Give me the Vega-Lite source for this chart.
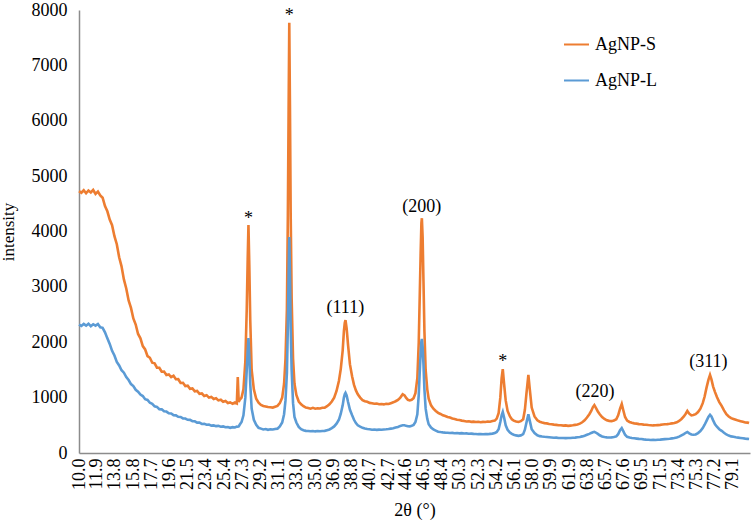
{
"$schema": "https://vega.github.io/schema/vega-lite/v6.json",
"autosize": "none",
"width": 671,
"height": 443,
"padding": {"left": 79, "top": 10, "right": 3, "bottom": 71},
"background": "white",
"config": {"view": {"stroke": null}, "font": "Liberation Serif",
"axis": {"labelFont": "Liberation Serif", "titleFont": "Liberation Serif"},
"legend": {"labelFont": "Liberation Serif"},
"text": {"font": "Liberation Serif"}},
"datasets": {
"xrd": [
{"t":10.00,"S":4730,"L":2320},{"t":10.25,"S":4700,"L":2295},{"t":10.50,"S":4745,"L":2330},{"t":10.75,"S":4690,"L":2300},
{"t":11.00,"S":4740,"L":2335},{"t":11.25,"S":4705,"L":2290},{"t":11.50,"S":4750,"L":2325},{"t":11.75,"S":4680,"L":2300},
{"t":12.00,"S":4720,"L":2330},{"t":12.25,"S":4650,"L":2270},{"t":12.50,"S":4610,"L":2260},{"t":12.75,"S":4460,"L":2180},
{"t":13.00,"S":4365,"L":2070},{"t":13.25,"S":4215,"L":1970},{"t":13.50,"S":4115,"L":1845},{"t":13.75,"S":3915,"L":1760},
{"t":14.00,"S":3770,"L":1645},{"t":14.25,"S":3535,"L":1580},{"t":14.50,"S":3370,"L":1495},{"t":14.75,"S":3135,"L":1450},
{"t":15.00,"S":2970,"L":1372},{"t":15.25,"S":2755,"L":1318},{"t":15.50,"S":2620,"L":1244},{"t":15.75,"S":2430,"L":1208},
{"t":16.00,"S":2320,"L":1142},{"t":16.25,"S":2150,"L":1108},{"t":16.50,"S":2070,"L":1054},{"t":16.75,"S":1930,"L":1028},
{"t":17.00,"S":1870,"L":972},{"t":17.25,"S":1750,"L":958},{"t":17.50,"S":1720,"L":907},{"t":17.75,"S":1630,"L":888},
{"t":18.00,"S":1620,"L":842},{"t":18.25,"S":1540,"L":833},{"t":18.50,"S":1540,"L":792},{"t":18.75,"S":1468,"L":788},
{"t":19.00,"S":1470,"L":752},{"t":19.25,"S":1408,"L":748},{"t":19.50,"S":1418,"L":717},{"t":19.75,"S":1372,"L":713},
{"t":20.00,"S":1397,"L":684},{"t":20.25,"S":1332,"L":680},{"t":20.50,"S":1333,"L":654},{"t":20.75,"S":1265,"L":650},
{"t":21.00,"S":1268,"L":624},{"t":21.25,"S":1210,"L":623},{"t":21.50,"S":1216,"L":600},{"t":21.75,"S":1160,"L":598},
{"t":22.00,"S":1165,"L":575},{"t":22.25,"S":1113,"L":572},{"t":22.50,"S":1120,"L":549},{"t":22.75,"S":1068,"L":548},
{"t":23.00,"S":1075,"L":525},{"t":23.25,"S":1031,"L":526},{"t":23.50,"S":1044,"L":510},{"t":23.75,"S":1001,"L":512},
{"t":24.00,"S":1013,"L":495},{"t":24.25,"S":974,"L":498},{"t":24.50,"S":988,"L":485},{"t":24.75,"S":950,"L":490},
{"t":25.00,"S":962,"L":475},{"t":25.25,"S":925,"L":480},{"t":25.50,"S":938,"L":465},{"t":25.75,"S":901,"L":470},
{"t":26.00,"S":913,"L":455},{"t":26.25,"S":889,"L":466},{"t":26.50,"S":911,"L":460},{"t":26.70,"S":895,"L":476},
{"t":26.80,"S":1370,"L":475},{"t":26.90,"S":920,"L":480},{"t":27.00,"S":960,"L":510},{"t":27.20,"S":1000,"L":560},
{"t":27.40,"S":1150,"L":680},{"t":27.60,"S":1650,"L":1000},{"t":27.75,"S":2600,"L":1500},{"t":27.85,"S":3500,"L":1850},
{"t":27.93,"S":4118,"L":2077},{"t":28.02,"S":3400,"L":1750},{"t":28.12,"S":2400,"L":1250},{"t":28.27,"S":1500,"L":800},
{"t":28.50,"S":1150,"L":600},{"t":28.75,"S":980,"L":510},{"t":29.00,"S":910,"L":455},{"t":29.25,"S":870,"L":440},
{"t":29.50,"S":850,"L":425},{"t":29.75,"S":840,"L":432},{"t":30.00,"S":830,"L":418},{"t":30.25,"S":825,"L":428},
{"t":30.50,"S":820,"L":425},{"t":30.75,"S":835,"L":435},{"t":31.00,"S":850,"L":440},{"t":31.25,"S":900,"L":480},
{"t":31.50,"S":1000,"L":550},{"t":31.70,"S":1250,"L":700},{"t":31.85,"S":1700,"L":950},{"t":32.00,"S":2600,"L":1450},
{"t":32.10,"S":4300,"L":2300},{"t":32.18,"S":6200,"L":3200},{"t":32.25,"S":7771,"L":3901},{"t":32.32,"S":6300,"L":3250},
{"t":32.40,"S":4300,"L":2250},{"t":32.50,"S":2800,"L":1500},{"t":32.65,"S":1700,"L":900},{"t":32.80,"S":1250,"L":650},
{"t":33.00,"S":1050,"L":550},{"t":33.25,"S":930,"L":470},{"t":33.50,"S":880,"L":430},{"t":33.75,"S":845,"L":412},
{"t":34.00,"S":820,"L":400},{"t":34.25,"S":812,"L":398},{"t":34.50,"S":800,"L":392},{"t":34.75,"S":815,"L":398},
{"t":35.00,"S":800,"L":390},{"t":35.25,"S":808,"L":396},{"t":35.50,"S":805,"L":392},{"t":35.75,"S":818,"L":398},
{"t":36.00,"S":820,"L":400},{"t":36.25,"S":845,"L":412},{"t":36.50,"S":880,"L":425},{"t":36.75,"S":930,"L":450},
{"t":37.00,"S":1000,"L":480},{"t":37.25,"S":1120,"L":530},{"t":37.50,"S":1300,"L":600},{"t":37.70,"S":1520,"L":710},
{"t":37.90,"S":1850,"L":860},{"t":38.03,"S":2200,"L":1000},{"t":38.12,"S":2350,"L":1060},{"t":38.20,"S":2400,"L":1085},
{"t":38.32,"S":2250,"L":1040},{"t":38.47,"S":1950,"L":920},{"t":38.67,"S":1600,"L":780},{"t":38.90,"S":1380,"L":680},
{"t":39.10,"S":1230,"L":600},{"t":39.30,"S":1130,"L":540},{"t":39.50,"S":1060,"L":500},{"t":39.75,"S":1000,"L":475},
{"t":40.00,"S":955,"L":455},{"t":40.25,"S":935,"L":442},{"t":40.50,"S":925,"L":432},{"t":40.75,"S":905,"L":428},
{"t":41.00,"S":900,"L":420},{"t":41.25,"S":890,"L":424},{"t":41.50,"S":892,"L":418},{"t":41.75,"S":880,"L":422},
{"t":42.00,"S":885,"L":420},{"t":42.25,"S":878,"L":425},{"t":42.50,"S":890,"L":428},{"t":42.75,"S":885,"L":432},
{"t":43.00,"S":900,"L":440},{"t":43.25,"S":915,"L":448},{"t":43.50,"S":935,"L":460},{"t":43.75,"S":960,"L":470},
{"t":44.00,"S":1000,"L":490},{"t":44.25,"S":1060,"L":500},{"t":44.45,"S":1040,"L":500},{"t":44.60,"S":1000,"L":490},
{"t":44.80,"S":960,"L":482},{"t":45.00,"S":950,"L":480},{"t":45.20,"S":960,"L":490},{"t":45.40,"S":990,"L":505},
{"t":45.60,"S":1080,"L":560},{"t":45.80,"S":1350,"L":700},{"t":45.95,"S":2000,"L":1050},{"t":46.05,"S":2800,"L":1450},
{"t":46.15,"S":3600,"L":1800},{"t":46.23,"S":4150,"L":2020},{"t":46.28,"S":4240,"L":2060},{"t":46.36,"S":3900,"L":1920},
{"t":46.45,"S":3100,"L":1600},{"t":46.55,"S":2200,"L":1150},{"t":46.68,"S":1500,"L":800},{"t":46.85,"S":1150,"L":620},
{"t":47.00,"S":980,"L":520},{"t":47.25,"S":860,"L":460},{"t":47.50,"S":800,"L":425},{"t":47.75,"S":760,"L":405},
{"t":48.00,"S":725,"L":385},{"t":48.25,"S":705,"L":378},{"t":48.50,"S":680,"L":372},{"t":48.75,"S":668,"L":368},
{"t":49.00,"S":650,"L":365},{"t":49.25,"S":640,"L":362},{"t":49.50,"S":622,"L":364},{"t":49.75,"S":615,"L":358},
{"t":50.00,"S":600,"L":360},{"t":50.25,"S":595,"L":355},{"t":50.50,"S":585,"L":358},{"t":50.75,"S":578,"L":352},
{"t":51.00,"S":570,"L":354},{"t":51.25,"S":572,"L":348},{"t":51.50,"S":562,"L":350},{"t":51.75,"S":566,"L":345},
{"t":52.00,"S":560,"L":344},{"t":52.25,"S":565,"L":340},{"t":52.50,"S":556,"L":342},{"t":52.75,"S":562,"L":338},
{"t":53.00,"S":560,"L":342},{"t":53.25,"S":568,"L":340},{"t":53.50,"S":565,"L":346},{"t":53.75,"S":578,"L":350},
{"t":54.00,"S":585,"L":360},{"t":54.20,"S":620,"L":380},{"t":54.40,"S":720,"L":430},{"t":54.58,"S":1000,"L":560},
{"t":54.72,"S":1350,"L":680},{"t":54.84,"S":1515,"L":740},{"t":54.98,"S":1250,"L":640},{"t":55.15,"S":950,"L":500},
{"t":55.35,"S":760,"L":420},{"t":55.60,"S":660,"L":370},{"t":55.80,"S":610,"L":345},{"t":56.00,"S":585,"L":330},
{"t":56.25,"S":570,"L":318},{"t":56.50,"S":560,"L":310},{"t":56.75,"S":575,"L":318},{"t":57.00,"S":610,"L":340},
{"t":57.18,"S":780,"L":420},{"t":57.36,"S":1100,"L":560},{"t":57.55,"S":1410,"L":700},{"t":57.70,"S":1150,"L":580},
{"t":57.90,"S":820,"L":430},{"t":58.20,"S":660,"L":360},{"t":58.50,"S":590,"L":320},{"t":58.75,"S":565,"L":305},
{"t":59.00,"S":550,"L":298},{"t":59.25,"S":540,"L":292},{"t":59.50,"S":535,"L":288},{"t":59.75,"S":525,"L":284},
{"t":60.00,"S":520,"L":280},{"t":60.25,"S":512,"L":276},{"t":60.50,"S":508,"L":278},{"t":60.75,"S":500,"L":272},
{"t":61.00,"S":502,"L":270},{"t":61.25,"S":494,"L":272},{"t":61.50,"S":498,"L":268},{"t":61.75,"S":490,"L":272},
{"t":62.00,"S":495,"L":270},{"t":62.25,"S":500,"L":275},{"t":62.50,"S":508,"L":278},{"t":62.75,"S":515,"L":285},
{"t":63.00,"S":530,"L":290},{"t":63.25,"S":555,"L":300},{"t":63.50,"S":590,"L":312},{"t":63.75,"S":640,"L":328},
{"t":64.00,"S":700,"L":345},{"t":64.20,"S":760,"L":362},{"t":64.38,"S":830,"L":375},{"t":64.53,"S":865,"L":382},
{"t":64.68,"S":820,"L":370},{"t":64.90,"S":750,"L":345},{"t":65.10,"S":700,"L":320},{"t":65.35,"S":650,"L":298},
{"t":65.60,"S":615,"L":288},{"t":65.85,"S":590,"L":282},{"t":66.10,"S":580,"L":280},{"t":66.35,"S":575,"L":282},
{"t":66.60,"S":585,"L":288},{"t":66.85,"S":610,"L":300},{"t":67.05,"S":680,"L":340},{"t":67.25,"S":800,"L":410},
{"t":67.43,"S":885,"L":450},{"t":67.58,"S":780,"L":400},{"t":67.78,"S":650,"L":330},{"t":68.00,"S":585,"L":292},
{"t":68.25,"S":560,"L":278},{"t":68.50,"S":545,"L":270},{"t":68.75,"S":535,"L":265},{"t":69.00,"S":530,"L":260},
{"t":69.25,"S":522,"L":255},{"t":69.50,"S":518,"L":252},{"t":69.75,"S":512,"L":246},{"t":70.00,"S":510,"L":242},
{"t":70.25,"S":505,"L":240},{"t":70.50,"S":502,"L":236},{"t":70.75,"S":498,"L":238},{"t":71.00,"S":500,"L":235},
{"t":71.25,"S":504,"L":240},{"t":71.50,"S":508,"L":242},{"t":71.75,"S":514,"L":246},{"t":72.00,"S":520,"L":250},
{"t":72.25,"S":522,"L":254},{"t":72.50,"S":528,"L":258},{"t":72.75,"S":535,"L":264},{"t":73.00,"S":540,"L":270},
{"t":73.25,"S":555,"L":280},{"t":73.50,"S":580,"L":295},{"t":73.75,"S":615,"L":318},{"t":74.00,"S":660,"L":342},
{"t":74.20,"S":710,"L":365},{"t":74.37,"S":760,"L":380},{"t":74.57,"S":710,"L":355},{"t":74.80,"S":680,"L":335},
{"t":75.00,"S":685,"L":330},{"t":75.25,"S":700,"L":335},{"t":75.50,"S":740,"L":360},{"t":75.75,"S":800,"L":395},
{"t":76.00,"S":900,"L":450},{"t":76.20,"S":1020,"L":510},{"t":76.40,"S":1180,"L":580},{"t":76.60,"S":1320,"L":650},
{"t":76.77,"S":1410,"L":690},{"t":76.92,"S":1330,"L":660},{"t":77.10,"S":1200,"L":590},{"t":77.30,"S":1100,"L":520},
{"t":77.50,"S":1010,"L":475},{"t":77.75,"S":920,"L":430},{"t":78.00,"S":850,"L":400},{"t":78.25,"S":770,"L":365},
{"t":78.50,"S":700,"L":335},{"t":78.75,"S":660,"L":315},{"t":79.00,"S":630,"L":300},{"t":79.25,"S":615,"L":292},
{"t":79.50,"S":600,"L":284},{"t":79.75,"S":585,"L":278},{"t":80.00,"S":575,"L":272},{"t":80.25,"S":565,"L":266},
{"t":80.50,"S":552,"L":260},{"t":80.75,"S":548,"L":255},{"t":80.90,"S":540,"L":252}
],
"notes": [
{"t":27.93,"v":4144,"label":"*"},
{"t":32.25,"v":7793,"label":"*"},
{"t":54.84,"v":1562,"label":"*"},
{"t":38.18,"v":2528,"label":"(111)"},
{"t":46.27,"v":4352,"label":"(200)"},
{"t":64.6,"v":1011,"label":"(220)"},
{"t":76.6,"v":1553,"label":"(311)"}
]
},
"encoding": {
"x": {"field": "t", "type": "quantitative",
"scale": {"domain": [10, 81], "nice": false, "zero": false},
"axis": {"values": [10.0,11.9,13.8,15.8,17.7,19.6,21.5,23.4,25.4,27.3,29.2,31.1,33.0,35.0,36.9,38.8,40.7,42.7,44.6,46.5,48.4,50.3,52.3,54.2,56.1,58.0,59.9,61.9,63.8,65.7,67.6,69.5,71.5,73.4,75.3,77.2,79.1],
"format": ".1f", "labelAngle": -90, "labelAlign": "right", "labelBaseline": "middle", "labelPadding": 5,
"labelOverlap": false, "labelFlush": false, "ticks": false, "grid": false,
"domainColor": "#8c8c8c", "domainWidth": 1.5,
"labelFont": "Liberation Serif", "labelFontSize": 18, "labelColor": "#000000",
"title": "2θ (°)", "titleFont": "Liberation Serif", "titleFontSize": 18, "titleFontWeight": "normal", "titleColor": "#000000", "titlePadding": 12}},
"y": {"field": "intensity", "type": "quantitative",
"scale": {"domain": [0, 8000], "nice": false},
"axis": {"values": [0,1000,2000,3000,4000,5000,6000,7000,8000], "format": "d",
"ticks": false, "grid": false, "labelPadding": 12,
"domainColor": "#8c8c8c", "domainWidth": 1.5,
"labelFont": "Liberation Serif", "labelFontSize": 18, "labelColor": "#000000",
"title": "intensity", "titleFont": "Liberation Serif", "titleFontSize": 17, "titleFontWeight": "normal", "titleColor": "#000000", "titlePadding": 14}}
},
"layer": [
{"data": {"name": "xrd"},
"transform": [{"fold": ["S", "L"], "as": ["series", "intensity"]}, {"filter": "datum.series == 'S'"}],
"mark": {"type": "line", "strokeWidth": 2.6, "interpolate": "linear"},
"encoding": {"color": {"field": "series", "type": "nominal",
"scale": {"domain": ["S", "L"], "range": ["#ED7D31", "#5B9BD5"]},
"legend": {"orient": "none", "legendX": 484, "legendY": 21, "title": null,
"labelExpr": "datum.label == 'S' ? 'AgNP-S' : 'AgNP-L'",
"symbolType": "stroke", "symbolSize": 625, "symbolStrokeWidth": 2,
"labelFont": "Liberation Serif", "labelFontSize": 18, "labelColor": "#000000",
"labelOffset": 5, "rowPadding": 13, "padding": 0}}}},
{"data": {"name": "xrd"},
"transform": [{"fold": ["S", "L"], "as": ["series", "intensity"]}, {"filter": "datum.series == 'L'"}],
"mark": {"type": "line", "strokeWidth": 2.6, "interpolate": "linear"},
"encoding": {"color": {"field": "series", "type": "nominal"}}},
{"data": {"name": "notes"},
"mark": {"type": "text", "font": "Liberation Serif", "fontSize": 18, "baseline": "alphabetic", "align": "center", "color": "#000000"},
"encoding": {"y": {"field": "v", "type": "quantitative"}, "text": {"field": "label"}}}
]
}
